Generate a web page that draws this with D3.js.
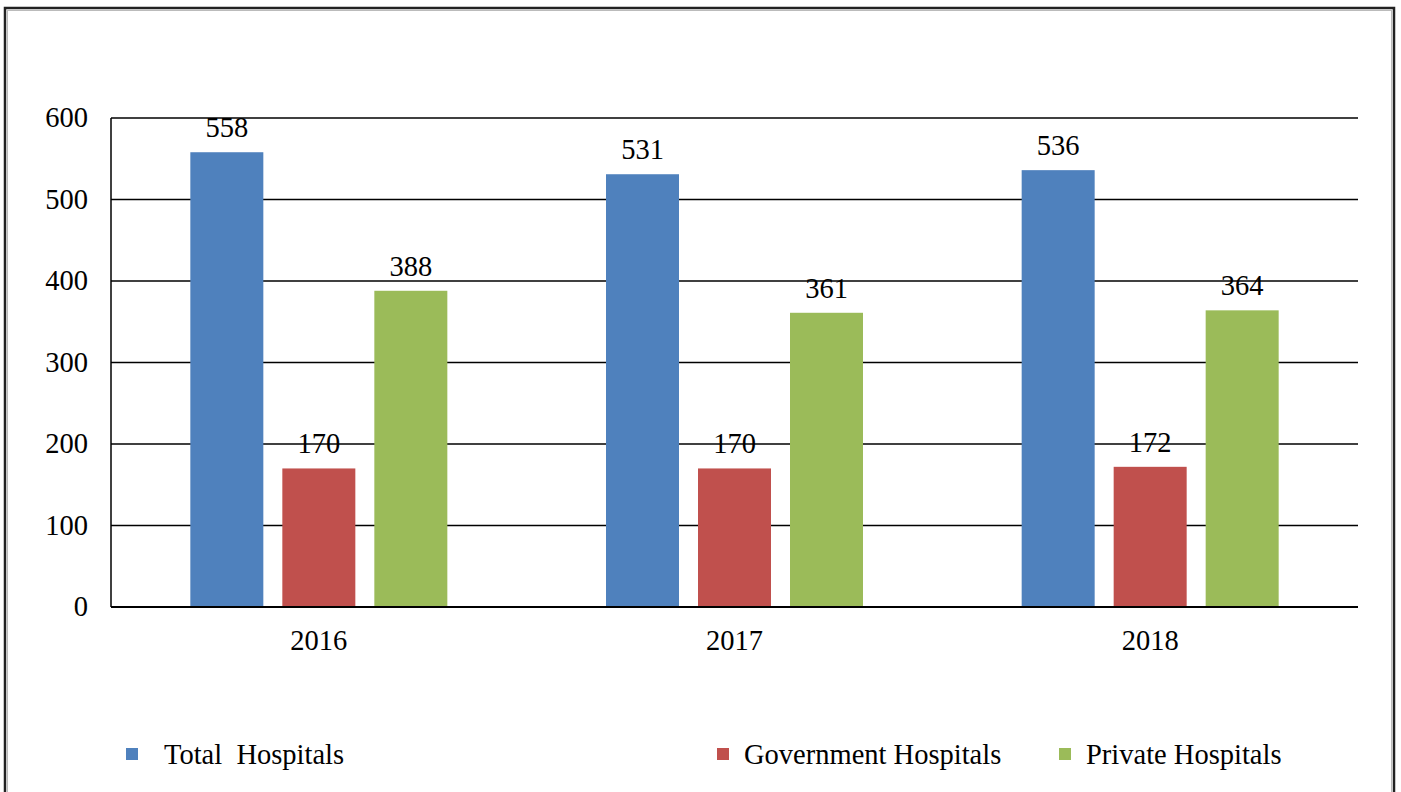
<!DOCTYPE html>
<html>
  <head>
    <meta charset="UTF-8">
    <script src="https://d3js.org/d3.v7.min.js"></script>
    <title>Hospitals</title>
    <style>
      body { margin: 0; background: #fff; }
      svg text { font-family: "Liberation Serif", "Times New Roman", serif; fill: #000; }
    </style>
  </head>
  <body>
    <svg id="f1" height="792" width="1401"></svg>
    <script>
    // data
    var years = ["2016", "2017", "2018"];
    var seriesNames = ["Total  Hospitals", "Government Hospitals", "Private Hospitals"];
    var totalHosp = [558, 531, 536];
    var govHosp = [170, 170, 172];
    var privHosp = [388, 361, 364];
    var yTicks = [0, 100, 200, 300, 400, 500, 600];
    var colors = ["#4f81bd", "#c0504d", "#9bbb59"];

    var svg = d3.select("#f1");
    var fontSize = "28.5px";

    // outer frame
    svg.append("rect")
      .attr("x", 5).attr("y", 8).attr("width", 1389).attr("height", 800)
      .attr("fill", "none").attr("stroke", "#222").attr("stroke-width", 2.5);
    svg.append("rect")
      .attr("x", 7.5).attr("y", 10.5).attr("width", 1384).attr("height", 800)
      .attr("fill", "none").attr("stroke", "#bbb").attr("stroke-width", 1);

    var plotL = 111, plotR = 1358, plotT = 118, plotB = 607;

    var x0 = d3.scaleBand().domain(years).range([plotL, plotR]);
    var y = d3.scaleLinear().domain([0, 600]).range([plotB, plotT]);

    var table = years.map(function(yr, i) {
      return { year: yr, vals: [totalHosp[i], govHosp[i], privHosp[i]] };
    });

    // gridlines
    svg.append("g").selectAll("line")
      .data(yTicks.filter(function(d){ return d > 0; }))
      .enter().append("line")
      .attr("x1", plotL).attr("x2", plotR)
      .attr("y1", function(d){ return y(d); })
      .attr("y2", function(d){ return y(d); })
      .attr("stroke", "#000").attr("stroke-width", 1.5);

    // y axis labels
    svg.append("g").selectAll("text")
      .data(yTicks).enter().append("text")
      .attr("x", 88)
      .attr("y", function(d){ return y(d) + 9; })
      .attr("text-anchor", "end")
      .style("font-size", fontSize)
      .text(function(d){ return d; });

    // bars
    var barStep = 92, barW = 73;
    var groups = svg.append("g").selectAll("g")
      .data(table).enter().append("g")
      .attr("transform", function(d){
        return "translate(" + (x0(d.year) + x0.bandwidth() / 2) + ",0)";
      });

    groups.selectAll("rect")
      .data(function(d){ return d.vals; })
      .enter().append("rect")
      .attr("x", function(d, i){ return (i - 1) * barStep - barW / 2; })
      .attr("y", function(d){ return y(d); })
      .attr("width", barW)
      .attr("height", function(d){ return plotB - y(d); })
      .attr("fill", function(d, i){ return colors[i]; });

    groups.selectAll("text.val")
      .data(function(d){ return d.vals; })
      .enter().append("text")
      .attr("class", "val")
      .attr("x", function(d, i){ return (i - 1) * barStep; })
      .attr("y", function(d){ return y(d) - 15; })
      .attr("text-anchor", "middle")
      .style("font-size", fontSize)
      .text(function(d){ return d; });

    // axes lines
    svg.append("line")
      .attr("x1", plotL).attr("x2", plotL).attr("y1", plotT).attr("y2", plotB)
      .attr("stroke", "#000").attr("stroke-width", 1.5);
    svg.append("line")
      .attr("x1", plotL).attr("x2", plotR).attr("y1", plotB).attr("y2", plotB)
      .attr("stroke", "#000").attr("stroke-width", 2);

    // x labels
    svg.append("g").selectAll("text")
      .data(years).enter().append("text")
      .attr("x", function(d){ return x0(d) + x0.bandwidth() / 2; })
      .attr("y", 650)
      .attr("text-anchor", "middle")
      .style("font-size", fontSize)
      .text(function(d){ return d; });

    // legend
    var legendX = [126, 717, 1059];
    var leg = svg.append("g").selectAll("g")
      .data(seriesNames).enter().append("g")
      .attr("transform", function(d, i){ return "translate(" + legendX[i] + ",748)"; });
    leg.append("rect")
      .attr("width", 12).attr("height", 12)
      .attr("fill", function(d, i){ return colors[i]; });
    leg.append("text")
      .attr("x", function(d, i){ return i == 0 ? 38 : 27; })
      .attr("y", 16)
      .style("font-size", fontSize)
      .style("white-space", "pre")
      .text(function(d){ return d; });
    </script>
  </body>
</html>
